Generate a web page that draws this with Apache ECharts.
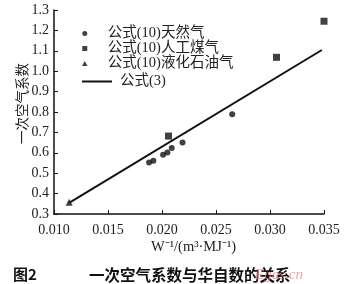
<!DOCTYPE html>
<html><head><meta charset="utf-8">
<script src="https://cdn.jsdelivr.net/npm/echarts@6/dist/echarts.min.js"></script>
<style>html,body{margin:0;padding:0;background:#fff}#c{width:350px;height:284px}</style>
</head><body><div id="c"></div>
<script>
// Data
var naturalGas = [[0.0188,0.553],[0.0192,0.561],[0.0201,0.591],[0.0205,0.602],[0.0209,0.624],[0.0219,0.650],[0.0265,0.789]];
var cokeGas = [[0.0206,0.682],[0.0306,1.068],[0.0350,1.245]];
var lpg = [[0.0114,0.358]];
var formula3 = [[0.0114,0.355],[0.0348,1.104]];
var seriesNames = ['公式(10)天然气','公式(10)人工煤气','公式(10)液化石油气','公式(3)'];
var xTicks = {min:0.010,max:0.035,interval:0.005};
var yTicks = {min:0.3,max:1.3,interval:0.1};

var serif = '"Liberation Serif","Noto Sans CJK SC",serif';
var legendText = {fontFamily:'"Liberation Serif","Noto Sans CJK SC",serif',fontSize:14.5,lineHeight:15,color:'#222',padding:[0,0,0,3]};
var chart = echarts.init(document.getElementById('c'), null, {renderer:'canvas'});
chart.setOption({
  animation:false,
  backgroundColor:'#fff',
  grid:{left:54,right:26,top:10,bottom:70,containLabel:false},
  legend:[{
    orient:'vertical', left:77, top:21, itemGap:0, itemWidth:30, itemHeight:5,
    textStyle:legendText,
    data:[
      {name:seriesNames[0],icon:'circle'},
      {name:seriesNames[1],icon:'path://M0,0L10,0L10,10L0,10Z'},
      {name:seriesNames[2],icon:'path://M5,0L10,9L0,9Z'}
    ]
  },{
    orient:'vertical', left:77, top:69, itemGap:0, itemWidth:30, itemHeight:5,
    textStyle:legendText,
    data:[{name:seriesNames[3],icon:'path://M0,0L30,0L30,2L0,2Z'}]
  }],
  xAxis:{
    type:'value', min:xTicks.min, max:xTicks.max, interval:xTicks.interval,
    axisLine:{lineStyle:{color:'#111',width:1.5}},
    axisTick:{inside:true,length:4,lineStyle:{color:'#111'}},
    axisLabel:{formatter:function(v){return v.toFixed(3);},fontFamily:serif,fontSize:14,color:'#222',margin:9},
    splitLine:{show:false}
  },
  yAxis:{
    type:'value', min:yTicks.min, max:yTicks.max, interval:yTicks.interval,
    axisLine:{show:true,lineStyle:{color:'#111',width:1.5}},
    axisTick:{show:true,inside:true,length:4,lineStyle:{color:'#111'}},
    axisLabel:{formatter:function(v){return v.toFixed(1);},fontFamily:serif,fontSize:14,color:'#222',margin:5},
    splitLine:{show:false}
  },
  series:[
    {name:seriesNames[0],type:'scatter',data:naturalGas,symbol:'circle',symbolSize:6,itemStyle:{color:'#111'}},
    {name:seriesNames[1],type:'scatter',data:cokeGas,symbol:'rect',symbolSize:7,itemStyle:{color:'#111'}},
    {name:seriesNames[2],type:'scatter',data:lpg,symbol:'triangle',symbolSize:7,itemStyle:{color:'#111'}},
    {name:seriesNames[3],type:'line',data:formula3,showSymbol:false,symbol:'none',lineStyle:{color:'#111',width:2},itemStyle:{color:'#111'}}
  ],
  graphic:[
    {type:'text',x:15,y:144,rotation:Math.PI/2,style:{text:'一次空气系数',font:'13.5px "Noto Sans CJK SC",sans-serif',fill:'#222'}},
    {type:'text',x:151,y:240,style:{text:'W⁻¹/(m³·MJ⁻¹)',font:'14.5px "Liberation Serif",serif',fill:'#222'}},
    {type:'text',x:13,y:267,style:{text:'图2',font:'bold 15px "Noto Sans CJK SC",sans-serif',fill:'#111'}},
    {type:'text',x:89,y:267,style:{text:'一次空气系数与华自数的关系',font:'bold 15.5px "Noto Sans CJK SC",sans-serif',fill:'#111'}},
    {type:'text',x:255,y:268,style:{text:'Egas.cn',font:'italic 15px "Liberation Serif",serif',fill:'rgba(235,120,130,0.7)'}}
  ]
});
</script></body></html>
